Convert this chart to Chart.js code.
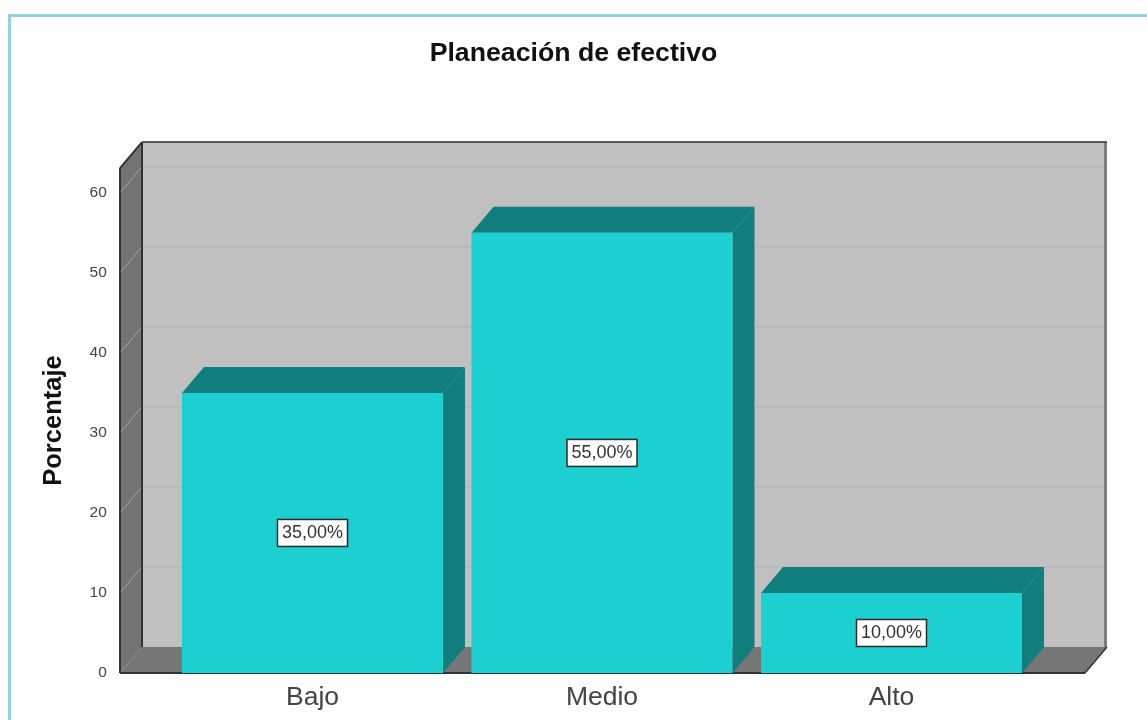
<!DOCTYPE html>
<html>
<head>
<meta charset="utf-8">
<title>Planeación de efectivo</title>
<script src="https://cdn.jsdelivr.net/npm/chart.js@4/dist/chart.umd.js"></script>
<style>
	html, body { margin: 0; padding: 0; background: #fff; overflow: hidden; }
	#frame { position: absolute; left: 8px; top: 14px; width: 1139px; height: 706px; box-sizing: border-box; border-left: 3px solid #93d2e0; border-top: 3px solid #93d2e0; }
	#wrap { position: absolute; left: 0; top: 0; width: 1147px; height: 720px; }
	canvas { display: block; filter: blur(0.6px); }
</style>
</head>
<body>
<div id="frame"></div>
<div id="wrap"><canvas id="chart" width="1147" height="720"></canvas></div>
<script>
'use strict';
const categories = ['Bajo', 'Medio', 'Alto'];
const values = [35, 55, 10];
const valueLabels = ['35,00%', '55,00%', '10,00%'];
const yTicks = [0, 10, 20, 30, 40, 50, 60];
const yMax = 63.1;

const DEPTH_X = 22, DEPTH_Y = 26;
const WALL_LEFT = 120, WALL_RIGHT = 1085;

function poly(ctx, pts, fill) {
	ctx.beginPath();
	pts.forEach((p, i) => i ? ctx.lineTo(p[0], p[1]) : ctx.moveTo(p[0], p[1]));
	ctx.closePath();
	ctx.fillStyle = fill;
	ctx.fill();
}

function line(ctx, x1, y1, x2, y2, color, width) {
	ctx.beginPath();
	ctx.moveTo(x1, y1);
	ctx.lineTo(x2, y2);
	ctx.strokeStyle = color;
	ctx.lineWidth = width;
	ctx.stroke();
}

// walls, floor and the side/top faces of the bars
const box3d = {
	id: 'box3d',
	afterLayout(chart) {
		// the title sits over the whole canvas, not the padded plot
		const t = chart.titleBlock;
		t.left = 0;
		t.right = chart.width;
		t.width = chart.width;
	},
	beforeDatasetsDraw(chart) {
		const ctx = chart.ctx, y = chart.scales.y;
		const top = y.getPixelForValue(yMax), bottom = y.getPixelForValue(0);
		const l = WALL_LEFT, r = WALL_RIGHT, dx = DEPTH_X, dy = DEPTH_Y;
		ctx.save();
		poly(ctx, [[l + dx, top - dy], [r + dx, top - dy], [r + dx, bottom - dy], [l + dx, bottom - dy]], '#c0c0c0');
		poly(ctx, [[l, top], [l + dx, top - dy], [l + dx, bottom - dy], [l, bottom]], '#737373');
		poly(ctx, [[l, bottom], [l + dx, bottom - dy], [r + dx, bottom - dy], [r, bottom]], '#767676');
		yTicks.forEach(v => {
			const py = y.getPixelForValue(v);
			line(ctx, l, py, l + dx, py - dy, v ? '#a3a3a3' : '#858585', 1);
			if (v) line(ctx, l + dx, py - dy, r + dx, py - dy, '#b6b6b6', 1.5);
		});
		line(ctx, r + dx - 1.5, top - dy, r + dx - 1.5, bottom - dy, '#7d7d7d', 3);
		line(ctx, l + dx, top - dy, r + dx, top - dy, '#2e2e2e', 1.5);
		line(ctx, l + dx, top - dy, l + dx, bottom - dy, '#333', 2);
		line(ctx, l, top, l + dx, top - dy, '#333', 2);
		line(ctx, l, top, l, bottom, '#333', 2);
		line(ctx, l, bottom, r, bottom, '#333', 2);
		line(ctx, r, bottom, r + dx, bottom - dy, '#333', 1.5);
		chart.getDatasetMeta(0).data.forEach(bar => {
			const x1 = bar.x - bar.width / 2, x2 = bar.x + bar.width / 2;
			poly(ctx, [[x1, bar.y], [x1 + dx, bar.y - dy], [x2 + dx, bar.y - dy], [x2, bar.y]], '#107e7d');
			poly(ctx, [[x2, bar.y], [x2 + dx, bar.y - dy], [x2 + dx, bottom - dy], [x2, bottom]], '#107e7d');
		});
		ctx.restore();
	},
	afterDatasetsDraw(chart) {
		const ctx = chart.ctx, y = chart.scales.y;
		ctx.save();
		ctx.font = '18px "Liberation Sans"';
		ctx.textAlign = 'center';
		ctx.textBaseline = 'middle';
		chart.getDatasetMeta(0).data.forEach((bar, i) => {
			const cy = y.getPixelForValue(values[i] / 2);
			const w = 70, h = 27;
			ctx.fillStyle = '#fff';
			ctx.fillRect(bar.x - w / 2, cy - h / 2, w, h);
			ctx.strokeStyle = '#2b2b2b';
			ctx.lineWidth = 1.5;
			ctx.strokeRect(bar.x - w / 2, cy - h / 2, w, h);
			ctx.fillStyle = '#333';
			ctx.fillText(valueLabels[i], bar.x, cy + 0.5);
		});
		ctx.restore();
	}
};

new Chart(document.getElementById('chart'), {
	type: 'bar',
	data: {
		labels: categories,
		datasets: [{ data: values, backgroundColor: '#1ccfd1', borderWidth: 0, categoryPercentage: 1, barPercentage: 0.9016 }]
	},
	options: {
		responsive: false,
		animation: false,
		devicePixelRatio: 1,
		layout: { padding: { left: 39, right: 110.75, top: 0, bottom: 0 } },
		plugins: {
			legend: { display: false },
			tooltip: { enabled: false },
			title: {
				display: true,
				text: 'Planeación de efectivo',
				color: '#111',
				font: { family: '"Liberation Sans"', size: 26.7, weight: 'bold' },
				padding: { top: 38, bottom: 98 }
			}
		},
		scales: {
			x: {
				grid: { display: false, drawTicks: false },
				border: { display: false },
				ticks: { color: '#444', font: { family: '"Liberation Sans"', size: 26.5 }, padding: 9, maxRotation: 0 },
				afterFit(scale) { scale.height = 47; }
			},
			y: {
				min: 0,
				max: yMax,
				grid: { display: false },
				border: { display: false },
				afterBuildTicks(scale) { scale.ticks = yTicks.map(value => ({ value })); },
				ticks: { color: '#444', font: { family: '"Liberation Sans"', size: 15.5 }, padding: 53 },
				title: {
					display: true,
					text: 'Porcentaje',
					color: '#111',
					font: { family: '"Liberation Sans"', size: 25.5, weight: 'bold' },
					padding: 0
				},
				afterFit(scale) {
					scale.width = 128.75;
					// the big tick padding would otherwise be reserved under the plot too
					scale.paddingTop = 0;
					scale.paddingBottom = 0;
				}
			}
		}
	},
	plugins: [box3d]
});
</script>
</body>
</html>
